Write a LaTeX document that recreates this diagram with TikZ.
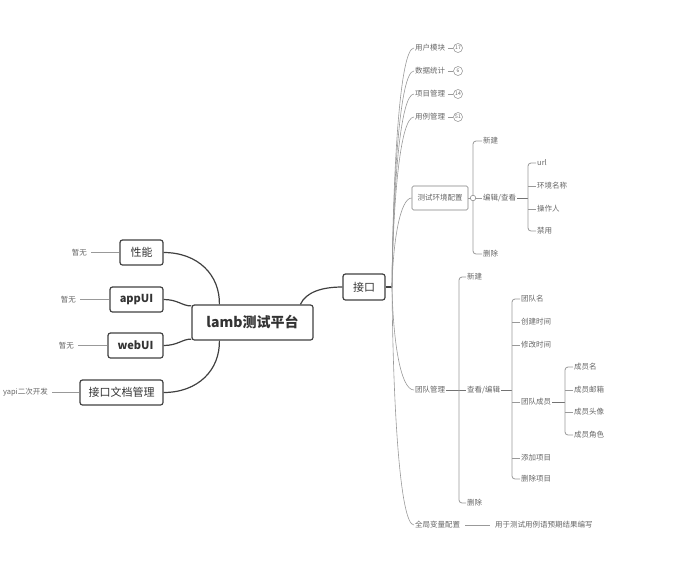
\documentclass[tikz,border=0pt]{standalone}
\usepackage{fontspec}
\setmainfont{Noto Sans CJK SC}
\usetikzlibrary{calc}
\begin{document}
\begin{tikzpicture}[x=1pt,y=-1pt,
  big/.style={draw=black!75, line width=1.2pt, rounded corners=2.5pt, minimum height=25pt, inner sep=0pt, font=\fontsize{11}{13}\selectfont, text=black!80},
  lab/.style={font=\fontsize{7.5}{9}\selectfont, text=black!60, inner sep=1pt, anchor=west},
  llab/.style={font=\fontsize{7.5}{9}\selectfont, text=black!60, inner sep=1pt, anchor=east},
  darkln/.style={draw=black!75, line width=1.2pt},
  greyln/.style={draw=black!40, line width=0.6pt},
  brk/.style={draw=black!40, line width=0.8pt, rounded corners=3pt},
  cnt/.style={circle, draw=black!45, fill=white, line width=0.5pt, minimum size=9pt, inner sep=0pt, font=\fontsize{5}{5}\selectfont, text=black!60},
]
\useasboundingbox (0,0) rectangle (700,565);

% central and left
\node[big, minimum width=121pt, minimum height=35pt, font=\fontsize{14}{16}\selectfont\bfseries] (main) at (252.5,322.5) {lamb测试平台};
\node[big, minimum width=43pt] (xn) at (141.5,252.5) {性能};
\node[big, minimum width=53pt, font=\fontsize{11}{13}\selectfont\bfseries] (app) at (136.5,299.5) {appUI};
\node[big, minimum width=55pt, font=\fontsize{11}{13}\selectfont\bfseries] (web) at (135.5,345.5) {webUI};
\node[big, minimum width=83pt] (doc) at (121.5,392.5) {接口文档管理};

\node[llab] (xnl) at (88,252.5) {暂无};
\node[llab] (appl) at (77,299.5) {暂无};
\node[llab] (webl) at (75,345.5) {暂无};
\node[llab] (docl) at (49,392.5) {yapi二次开发};
\draw[greyln, shorten <=3pt] (xnl.east) -- (xn.west);
\draw[greyln, shorten <=3pt] (appl.east) -- (app.west);
\draw[greyln, shorten <=3pt] (webl.east) -- (web.west);
\draw[greyln, shorten <=3pt] (docl.east) -- (doc.west);

\draw[darkln] (xn.east) .. controls (198,252.5) and (220,275) .. ($(main.north west)+(28,0)$);
\draw[darkln] (app.east) .. controls (178,299.5) and (182,306) .. ($(main.north west)+(0,1.5)$);
\draw[darkln] (web.east) .. controls (178,345.5) and (182,339) .. ($(main.south west)+(0,-1.5)$);
\draw[darkln] (doc.east) .. controls (198,392.5) and (220,370) .. ($(main.south west)+(28,0)$);

% interface
\node[big, minimum width=42pt, minimum height=26pt] (api) at (364,287) {接口};
\draw[darkln] ($(main.north west)+(109,0)$) .. controls (306,292) and (322,287) .. (api.west);
\coordinate (trunk) at (392,287);
\draw[darkln] (api.east) -- (trunk);

% first-level children
\node[lab] (u1) at (414,48) {用户模块};
\node[lab] (u2) at (414,71) {数据统计};
\node[lab] (u3) at (414,94) {项目管理};
\node[lab] (u4) at (414,117) {用例管理};
\node[cnt] (c1) at (458,48) {17};
\node[cnt] (c2) at (458,71) {6};
\node[cnt] (c3) at (458,94) {14};
\node[cnt] (c4) at (458,117) {51};
\foreach \i in {1,...,4} {\draw[greyln, shorten <=1.5pt] (u\i.east) -- (c\i.west);}

\node[draw=black!50, rounded corners=1.5pt, line width=0.6pt, minimum width=56pt, minimum height=24pt, inner sep=0pt, font=\fontsize{7.5}{9}\selectfont, text=black!60] (env) at (440,198) {测试环境配置};
\node[lab] (team) at (414,390) {团队管理};
\node[lab] (glob) at (414,525) {全局变量配置};

\draw[greyln] (trunk) .. controls (393,167) and (400,48) .. (u1.west);
\draw[greyln] (trunk) .. controls (393,179) and (400,71) .. (u2.west);
\draw[greyln] (trunk) .. controls (393,190) and (400,94) .. (u3.west);
\draw[greyln] (trunk) .. controls (393,202) and (400,117) .. (u4.west);
\draw[greyln] (trunk) .. controls (393,242) and (400,198) .. (env.west);
\draw[greyln] (trunk) .. controls (393,338) and (400,390) .. (team.west);
\draw[greyln] (trunk) .. controls (393,406) and (400,525) .. (glob.west);

% env children
\node[lab] (e1) at (482,141) {新建};
\node[lab] (e2) at (482,198) {编辑/查看};
\node[lab] (e3) at (482,254) {删除};
\draw[brk] (e1.west) -| (473,198) |- (e3.west);
\draw[greyln] (env.east) -- (e2.west);
\node[circle, draw=black!50, fill=white, line width=0.5pt, minimum size=5.5pt, inner sep=0pt] (envc) at (473,198) {};

\node[lab] (f1) at (536,163) {url};
\node[lab] (f2) at (536,186) {环境名称};
\node[lab] (f3) at (536,209) {操作人};
\node[lab] (f4) at (536,231) {禁用};
\coordinate (fb) at (528,198);
\draw[darkln, line width=1pt, draw=black!55] (e2.east) -- (fb);
\draw[brk] (f1.west) -| (fb) |- (f4.west);
\draw[greyln] (fb |- f2.west) -- (f2.west);
\draw[greyln] (fb |- f3.west) -- (f3.west);

% team children
\node[lab] (t1) at (466,277) {新建};
\node[lab] (t2) at (466,390) {查看/编辑};
\node[lab] (t3) at (466,503) {删除};
\coordinate (tb) at (459,390);
\draw[darkln, line width=1pt, draw=black!55] (team.east) -- (t2.west);
\draw[brk] (t1.west) -| (tb) |- (t3.west);

\node[lab] (g1) at (520,299) {团队名};
\node[lab] (g2) at (520,322) {创建时间};
\node[lab] (g3) at (520,345) {修改时间};
\node[lab] (g4) at (520,402) {团队成员};
\node[lab] (g5) at (520,458) {添加项目};
\node[lab] (g6) at (520,479) {删除项目};
\coordinate (gb) at (512,390);
\draw[darkln, line width=1pt, draw=black!55] (t2.east) -- (gb);
\draw[brk] (g1.west) -| (gb) |- (g6.west);
\foreach \i in {2,3,4,5} {\draw[greyln] (gb |- g\i.west) -- (g\i.west);}

\node[lab] (h1) at (573,367) {成员名};
\node[lab] (h2) at (573,390) {成员邮箱};
\node[lab] (h3) at (573,412) {成员头像};
\node[lab] (h4) at (573,435) {成员角色};
\coordinate (hb) at (565,402);
\draw[darkln, line width=1pt, draw=black!55] (g4.east) -- (hb);
\draw[brk] (h1.west) -| (hb) |- (h4.west);
\draw[greyln] (hb |- h2.west) -- (h2.west);
\draw[greyln] (hb |- h3.west) -- (h3.west);

% global
\node[lab] (gn) at (494,525) {用于测试用例语预期结果编写};
\draw[greyln, shorten <=4pt, shorten >=4pt] (glob.east) -- (gn.west);
\end{tikzpicture}
\end{document}
